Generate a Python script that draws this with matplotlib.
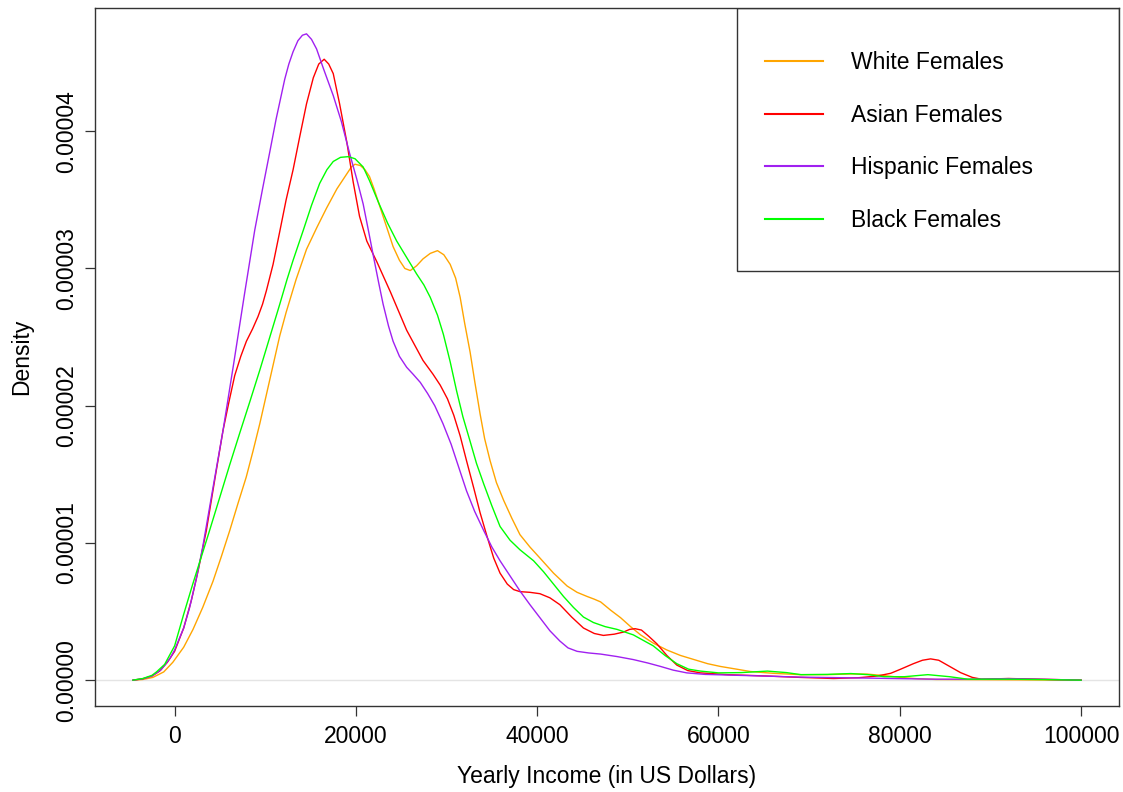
import matplotlib
matplotlib.use("Agg")
import matplotlib.pyplot as plt
import numpy as np
from matplotlib.patches import Rectangle

plt.rcParams['font.family'] = ['Liberation Sans', 'DejaVu Sans']

# ---- data (density values in units of 1e-5) ----
white_x = [-4500, -3500, -2400, -1200, -200, 1000, 2030, 3100, 4230, 5150, 6080, 7000, 7900,
           8650, 9400, 10500, 11600, 12300, 13400, 14550, 15700, 16760, 17900, 19000, 19500,
           19900, 20500, 21000, 21500, 22000, 22650, 23300, 24100, 24800, 25400, 26000, 26700,
           27400, 28200, 29000, 29700, 30400, 31000, 31500, 32000, 32600, 33100, 33700, 34200,
           34800, 35500, 36300, 37200, 38100, 39200, 40300, 41800, 43300, 44400, 45500, 46300,
           47000, 48100, 49200, 50300, 51400, 52800, 54300, 55800, 57300, 58800, 60200, 62000,
           63500, 66000, 69000, 72000, 74500, 76400, 78000, 80100, 82000, 84000, 90000, 100000]
white_y = [0, 0.005, 0.02, 0.06, 0.13, 0.24, 0.37, 0.53, 0.72, 0.90, 1.09, 1.29, 1.48,
           1.67, 1.87, 2.19, 2.51, 2.68, 2.92, 3.14, 3.30, 3.44, 3.58, 3.69, 3.74,
           3.76, 3.75, 3.72, 3.67, 3.58, 3.45, 3.32, 3.16, 3.06, 3.00, 2.985, 3.02,
           3.07, 3.11, 3.13, 3.10, 3.03, 2.93, 2.79, 2.60, 2.39, 2.18, 1.94, 1.76,
           1.60, 1.44, 1.31, 1.18, 1.06, 0.97, 0.89, 0.78, 0.686, 0.64, 0.61, 0.59,
           0.57, 0.51, 0.455, 0.39, 0.33, 0.27, 0.22, 0.18, 0.15, 0.12, 0.10, 0.08,
           0.063, 0.05, 0.04, 0.04, 0.045, 0.044, 0.035, 0.02, 0.01, 0.005, 0.003, 0]

asian_x = [-4600, -3500, -2500, -1660, -800, 0, 1000, 1840, 2600, 3500, 4400, 5340, 6000,
           6630, 7300, 7920, 8600, 9200, 9700, 10130, 10860, 11600, 12300, 13070, 13800,
           14550, 15300, 15900, 16500, 17000, 17500, 18200, 19000, 19700, 20400, 21200, 22300,
           23800, 25600, 27400, 28500, 29300, 30100, 30800, 31500, 32200, 33000, 33700, 34500,
           35200, 35900, 36700, 37400, 38100, 39200, 40300, 41400, 42500, 43800, 45100, 46300,
           47300, 48500, 49500, 50200, 50800, 51500, 52300, 53200, 54300, 55400, 56600, 58000,
           61000, 65400, 69000, 72700, 75500, 77500, 79000, 80100, 81500, 82500, 83400, 84300,
           85500, 86700, 88000, 89000, 92000, 96000, 100000]
asian_y = [0, 0.01, 0.03, 0.066, 0.13, 0.21, 0.38, 0.58, 0.80, 1.09, 1.45, 1.82, 2.03,
           2.22, 2.36, 2.47, 2.56, 2.65, 2.74, 2.84, 3.03, 3.27, 3.50, 3.72, 3.96,
           4.20, 4.39, 4.49, 4.525, 4.49, 4.42, 4.20, 3.92, 3.63, 3.38, 3.20, 3.05,
           2.83, 2.55, 2.33, 2.23, 2.15, 2.05, 1.93, 1.78, 1.60, 1.40, 1.22, 1.04,
           0.89, 0.78, 0.70, 0.66, 0.645, 0.64, 0.63, 0.60, 0.55, 0.46, 0.38, 0.34,
           0.326, 0.335, 0.35, 0.37, 0.375, 0.365, 0.32, 0.265, 0.18, 0.11, 0.07, 0.053,
           0.04, 0.03, 0.02, 0.012, 0.018, 0.03, 0.05, 0.08, 0.12, 0.145, 0.155, 0.145,
           0.10, 0.055, 0.02, 0.007, 0.012, 0.006, 0]

hisp_x = [-4600, -3500, -2500, -1500, -500, 0, 1000, 1660, 2400, 3100, 4200, 5340, 6500,
          7700, 8840, 9700, 10500, 11200, 12150, 12600, 13070, 13600, 14100, 14550, 15100,
          15660, 16400, 17500, 18400, 19300, 20100, 20800, 21400, 21900, 22500, 23000, 23600,
          24100, 24800, 25600, 26300, 27100, 27900, 28700, 29600, 30500, 31300, 32200, 33100,
          34100, 35000, 35900, 37000, 38100, 39200, 40300, 41400, 42500, 43400, 44400, 45700,
          47000, 48800, 50600, 52200, 53600, 55000, 56500, 58500, 61700, 65000, 69000, 76400,
          84000, 88000, 92000, 96000, 100000]
hisp_y = [0, 0.01, 0.03, 0.075, 0.16, 0.22, 0.38, 0.53, 0.74, 0.97, 1.39, 1.82, 2.30,
          2.81, 3.28, 3.58, 3.85, 4.09, 4.38, 4.49, 4.58, 4.66, 4.70, 4.71, 4.67,
          4.60, 4.46, 4.26, 4.07, 3.84, 3.65, 3.47, 3.27, 3.10, 2.90, 2.74, 2.58,
          2.47, 2.36, 2.28, 2.23, 2.17, 2.09, 2.00, 1.87, 1.72, 1.56, 1.38, 1.23,
          1.09, 0.97, 0.87, 0.76, 0.65, 0.55, 0.455, 0.36, 0.285, 0.235, 0.21, 0.198,
          0.19, 0.172, 0.15, 0.125, 0.10, 0.073, 0.053, 0.042, 0.036, 0.03, 0.022, 0.015,
          0.007, 0.007, 0.011, 0.006, 0]

black_x = [-4600, -3500, -2500, -2000, -1100, 0, 1000, 2000, 2760, 3760, 4970, 6080, 7180,
           8300, 9400, 10500, 11600, 12400, 13070, 14200, 15100, 16000, 16800, 17500, 18300,
           19150, 19900, 20800, 21500, 22500, 23500, 24500, 25600, 26700, 27500, 28200, 29000,
           29650, 30400, 31100, 31800, 32600, 33300, 34100, 35000, 35900, 37000, 38100, 39600,
           40700, 41800, 42900, 44000, 45100, 46200, 47500, 48800, 50600, 51700, 52800, 54100,
           55400, 56700, 58000, 60000, 62500, 65400, 67500, 69100, 72000, 74600, 76500, 78300,
           80500, 83100, 85500, 87500, 92000, 96000, 100000]
black_y = [0, 0.012, 0.035, 0.06, 0.115, 0.25, 0.48, 0.70, 0.86, 1.07, 1.33, 1.57, 1.80,
           2.03, 2.26, 2.50, 2.74, 2.92, 3.06, 3.28, 3.46, 3.62, 3.72, 3.78, 3.81,
           3.815, 3.80, 3.74, 3.64, 3.48, 3.33, 3.20, 3.08, 2.96, 2.88, 2.79, 2.66,
           2.52, 2.32, 2.11, 1.92, 1.74, 1.58, 1.43, 1.27, 1.12, 1.02, 0.95, 0.87,
           0.79, 0.70, 0.61, 0.53, 0.46, 0.42, 0.39, 0.37, 0.33, 0.29, 0.25, 0.18,
           0.12, 0.08, 0.066, 0.053, 0.055, 0.066, 0.055, 0.04, 0.042, 0.048, 0.04, 0.025,
           0.025, 0.04, 0.025, 0.007, 0.007, 0.004, 0]

labels = ["White Females", "Asian Females", "Hispanic Females", "Black Females"]
colors = ["#FFA500", "#FF0000", "#A020F0", "#00FF00"]
x_ticks = [0, 20000, 40000, 60000, 80000, 100000]
y_ticks = [0, 1e-5, 2e-5, 3e-5, 4e-5]
y_tick_labels = ["0.00000", "0.00001", "0.00002", "0.00003", "0.00004"]

series = [(white_x, white_y), (asian_x, asian_y), (hisp_x, hisp_y), (black_x, black_y)]

W, H = 1123, 792
fig = plt.figure(figsize=(W / 100, H / 100), dpi=100)
L, R, T, B = 95, 1119, 8, 706
ax = fig.add_axes([L / W, 1 - B / H, (R - L) / W, (B - T) / H])

ax.axhline(0, color="#e4e4e4", lw=1.0, zorder=0.5)
handles = []
for (xs, ys), lab, col in zip(series, labels, colors):
    h, = ax.plot(xs, np.array(ys) * 1e-5, color=col, lw=1.0, label=lab,
                 solid_joinstyle="round")
    handles.append(h)

ax.margins(x=0.04, y=0.04)
ax.set_xticks(x_ticks)
ax.set_xticklabels([str(v) for v in x_ticks])
ax.set_yticks(y_ticks)
ax.set_yticklabels(y_tick_labels, rotation=90, va="center")

fs = 16.5
ax.tick_params(axis="both", direction="out", length=7.5, width=0.9, labelsize=fs, color="#333333")
ax.tick_params(axis="x", pad=6.5)
ax.tick_params(axis="y", pad=5)
for s in ax.spines.values():
    s.set_color("#333333")
    s.set_linewidth(1.0)

ax.set_xlabel("Yearly Income (in US Dollars)", fontsize=fs, labelpad=12)
ax.set_ylabel("Density", fontsize=fs, labelpad=15.5)

# legend box (R style, asymmetric padding)
lx0, ly0, lx1, ly1 = 737, 8, 1119, 271
ax.add_patch(Rectangle(((lx0 - L) / (R - L), 1 - (ly1 - T) / (B - T)),
                       (lx1 - lx0) / (R - L), (ly1 - ly0) / (B - T),
                       transform=ax.transAxes, fill=False, edgecolor="#333333",
                       lw=1.0, zorder=5))
leg = ax.legend(handles=handles, loc="center left",
                bbox_to_anchor=((765 - L) / (R - L), 1 - (141.5 - T) / (B - T)),
                frameon=False, fontsize=fs, borderpad=0, borderaxespad=0,
                handlelength=58 / 22.9, handletextpad=1.24, labelspacing=1.29)
for ln in leg.get_lines():
    ln.set_linewidth(1.5)

fig.savefig("out.png", dpi=100)
